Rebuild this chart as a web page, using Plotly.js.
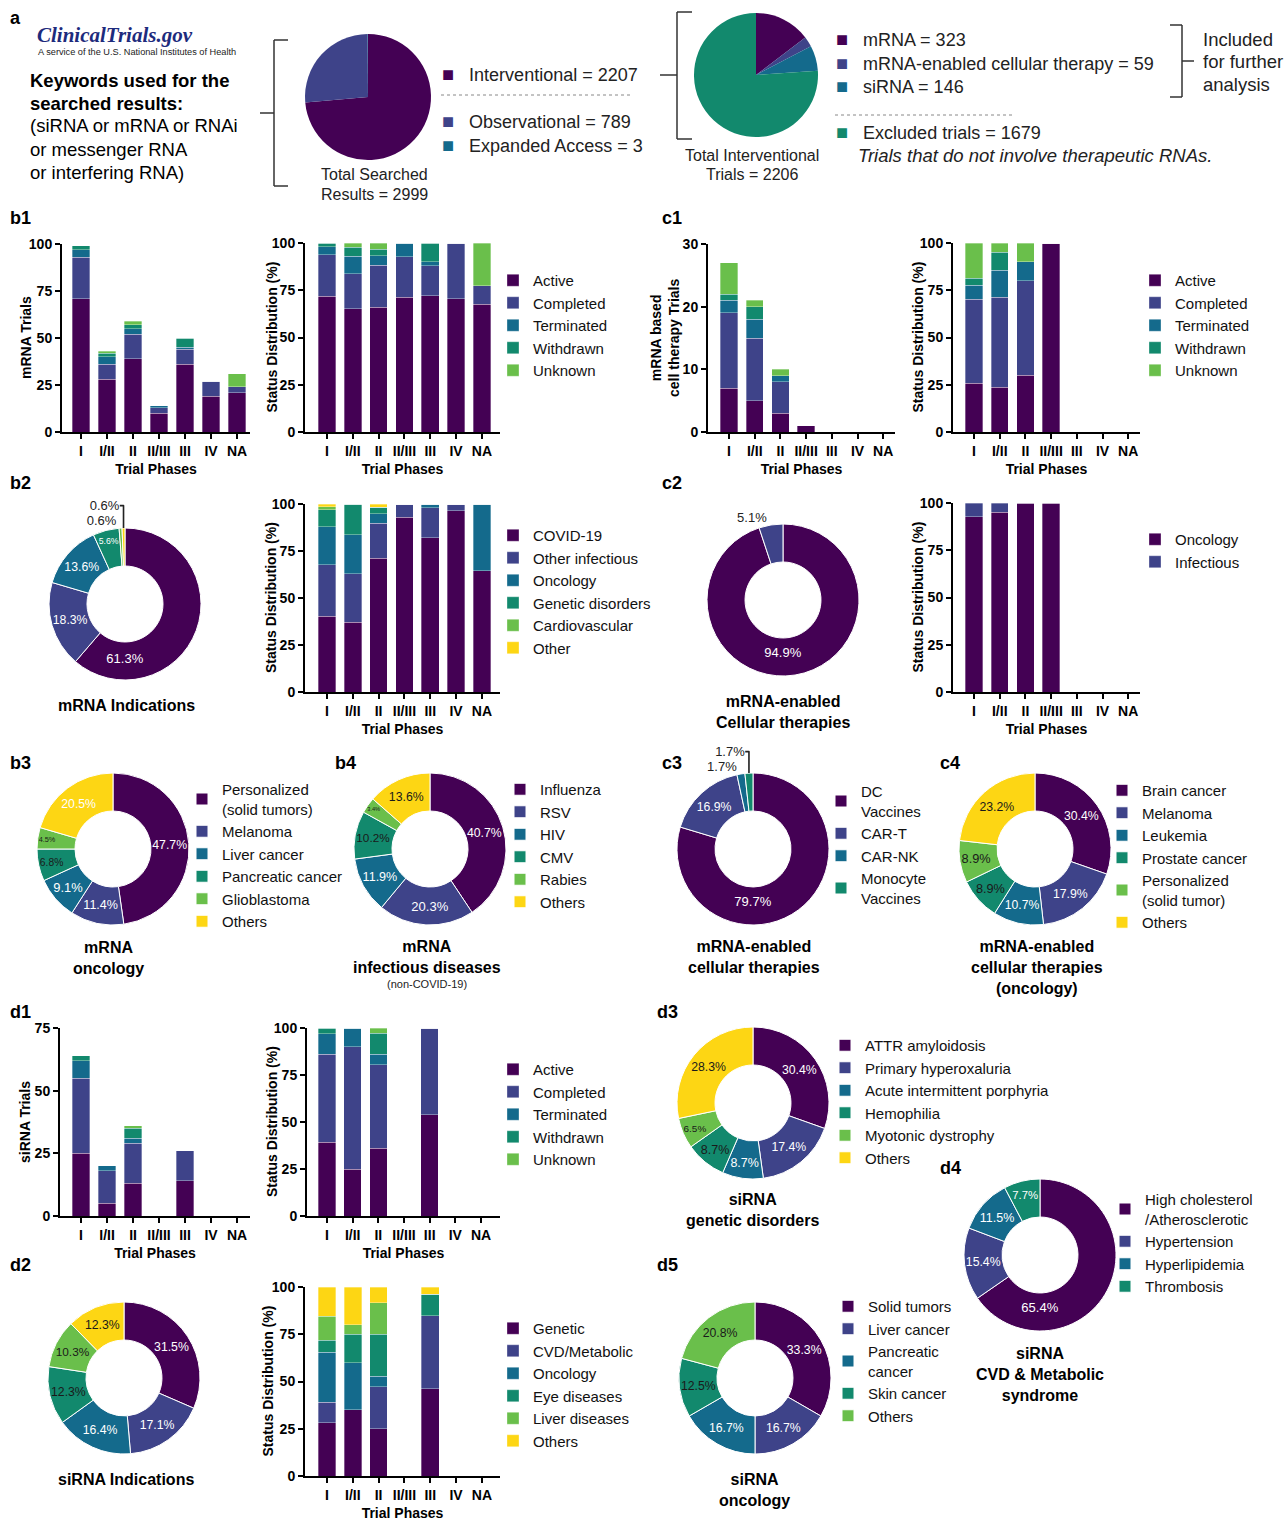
<!DOCTYPE html>
<html><head><meta charset="utf-8">
<script src="https://cdn.plot.ly/plotly-3.0.1.min.js"></script>
<style>html,body{margin:0;padding:0;background:#fff}#chart{width:1287px;height:1521px}</style>
</head><body><div id="chart"></div>
<script>
// ================= DATA =================
const phases = ['I','I/II','II','II/III','III','IV','NA'];
const statusNames = ['Active','Completed','Terminated','Withdrawn','Unknown'];

// a: search results
const searchLabels = ['Interventional','Observational','Expanded Access'];
const searchValues = [2207, 789, 3];
const interLabels = ['mRNA','mRNA-enabled cellular therapy','siRNA','Excluded trials'];
const interValues = [323, 59, 146, 1679];

// b1: mRNA trials (counts) by phase and status
const mrnaActive     = [71, 28, 39, 10, 36, 19, 21];
const mrnaCompleted  = [22,  8, 13,  3,  8,  8,  3];
const mrnaTerminated = [ 4,  4,  3,  1,  1,  0,  0];
const mrnaWithdrawn  = [ 2,  2,  2,  0,  5,  0,  0];
const mrnaUnknown    = [ 0,  1,  2,  0,  0,  0,  7];
// b1: status distribution (%)
const mrnaPctActive     = [71.7, 65.1, 66.1, 71.4, 72.0, 70.4, 67.7];
const mrnaPctCompleted  = [22.2, 18.6, 22.0, 21.4, 16.0, 29.6,  9.7];
const mrnaPctTerminated = [ 4.0,  9.3,  5.1,  7.1,  2.0,  0,    0];
const mrnaPctWithdrawn  = [ 2.0,  4.7,  3.4,  0,   10.0,  0,    0];
const mrnaPctUnknown    = [ 0,    2.3,  3.4,  0,    0,    0,   22.6];

// c1: mRNA-based cell therapy trials (counts)
const cellActive     = [7, 5, 3, 1, 0, 0, 0];
const cellCompleted  = [12, 10, 5, 0, 0, 0, 0];
const cellTerminated = [2, 3, 1, 0, 0, 0, 0];
const cellWithdrawn  = [1, 2, 0, 0, 0, 0, 0];
const cellUnknown    = [5, 1, 1, 0, 0, 0, 0];
// c1: status distribution (%)
const cellPctActive     = [25.9, 23.8, 30, 100, 0, 0, 0];
const cellPctCompleted  = [44.4, 47.6, 50, 0, 0, 0, 0];
const cellPctTerminated = [7.4, 14.3, 10, 0, 0, 0, 0];
const cellPctWithdrawn  = [3.7, 9.5, 0, 0, 0, 0, 0];
const cellPctUnknown    = [18.5, 4.8, 10, 0, 0, 0, 0];

// b2: mRNA indications
const mrnaIndLabels = ['COVID-19','Other infectious','Oncology','Genetic disorders','Cardiovascular','Other'];
const mrnaIndCounts = [198, 59, 44, 18, 2, 2];
const indPctCovid    = [40.4, 37.2, 71.2, 92.9, 82.0, 96.3, 64.5];
const indPctOtherInf = [27.3, 25.6, 18.6, 7.1, 16.0, 3.7, 0];
const indPctOncology = [20.2, 20.9, 5.1, 0, 2.0, 0, 35.5];
const indPctGenetic  = [9.1, 16.3, 3.4, 0, 0, 0, 0];
const indPctCardio   = [1.5, 0, 0, 0, 0, 0, 0];
const indPctOther    = [1.5, 0, 1.7, 0, 0, 0, 0];

// c2: mRNA-enabled cellular therapies indications
const cellIndLabels = ['Oncology','Infectious'];
const cellIndCounts = [56, 3];
const cellIndPctOnc = [92.6, 95.2, 100, 100, 0, 0, 0];
const cellIndPctInf = [7.4, 4.8, 0, 0, 0, 0, 0];

// b3 / b4 / c3 / c4
const mrnaOncLabels = ['Personalized<br>(solid tumors)','Melanoma','Liver cancer','Pancreatic cancer','Glioblastoma','Others'];
const mrnaOncCounts = [21, 5, 4, 3, 2, 9];
const mrnaInfLabels = ['Influenza','RSV','HIV','CMV','Rabies','Others'];
const mrnaInfCounts = [24, 12, 7, 6, 2, 8];
const cellTypeLabels = ['DC<br>Vaccines','CAR-T','CAR-NK','Monocyte<br>Vaccines'];
const cellTypeCounts = [47, 10, 1, 1];
const cellOncLabels = ['Brain cancer','Melanoma','Leukemia','Prostate cancer','Personalized<br>(solid tumor)','Others'];
const cellOncCounts = [17, 10, 6, 5, 5, 13];

// d1: siRNA trials (counts)
const siActive     = [25, 5, 13, 0, 14, 0, 0];
const siCompleted  = [30, 13, 16, 0, 12, 0, 0];
const siTerminated = [7, 2, 2, 0, 0, 0, 0];
const siWithdrawn  = [2, 0, 4, 0, 0, 0, 0];
const siUnknown    = [0, 0, 1, 0, 0, 0, 0];
// d1: status distribution (%)
const siPctActive     = [39.1, 25, 36.1, 0, 53.8, 0, 0];
const siPctCompleted  = [46.9, 65, 44.4, 0, 46.2, 0, 0];
const siPctTerminated = [10.9, 10, 5.6, 0, 0, 0, 0];
const siPctWithdrawn  = [3.1, 0, 11.1, 0, 0, 0, 0];
const siPctUnknown    = [0, 0, 2.8, 0, 0, 0, 0];

// d2: siRNA indications
const siIndLabels = ['Genetic','CVD/Metabolic','Oncology','Eye diseases','Liver diseases','Others'];
const siIndCounts = [46, 25, 24, 18, 15, 18];
const siIndPctGenetic = [28.1, 35, 25, 0, 46.2, 0, 0];
const siIndPctCvd     = [10.9, 0, 22.2, 0, 38.5, 0, 0];
const siIndPctOnc     = [26.6, 25, 5.6, 0, 0, 0, 0];
const siIndPctEye     = [6.3, 15, 22.2, 0, 11.5, 0, 0];
const siIndPctLiver   = [12.5, 5, 16.7, 0, 0, 0, 0];
const siIndPctOthers  = [15.6, 20, 8.3, 0, 3.8, 0, 0];

// d3 / d4 / d5
const siGenLabels = ['ATTR amyloidosis','Primary hyperoxaluria','Acute intermittent porphyria','Hemophilia','Myotonic dystrophy','Others'];
const siGenCounts = [14, 8, 4, 4, 3, 13];
const siCvdLabels = ['High cholesterol<br>/Atherosclerotic','Hypertension','Hyperlipidemia','Thrombosis'];
const siCvdCounts = [17, 4, 3, 2];
const siOncLabels = ['Solid tumors','Liver cancer','Pancreatic<br>cancer','Skin cancer','Others'];
const siOncCounts = [8, 4, 4, 3, 5];

// ================= STYLE / LAYOUT =================
const W = 1287, H = 1521;
const X = p => p / W;
const Y = p => 1 - p / H;
const FONT = 'Liberation Sans, Arial, Helvetica, sans-serif';
const C = {P:'#440154', B:'#3e4389', T:'#146a8c', G:'#12896d', L:'#6abf4b', Yl:'#fdd614'};
const pal = [C.P, C.B, C.T, C.G, C.L, C.Yl];
const DARK = '#1a1a1a', WHITE = '#ffffff';

const traces = [];
const layout = {
  width: W, height: H,
  margin: {l:0, r:0, t:0, b:0},
  paper_bgcolor: '#ffffff', plot_bgcolor: '#ffffff',
  font: {family: FONT, color: '#000', size: 14},
  barmode: 'stack', bargap: 0.32,
  showlegend: true, hovermode: false,
  annotations: [], shapes: []
};

function ann(text, x, y, o) {
  o = o || {};
  layout.annotations.push({
    text: text, x: X(x), y: Y(y), xref: 'paper', yref: 'paper', showarrow: false,
    xanchor: o.xa || 'left', yanchor: o.ya || 'middle', align: o.align || 'left',
    textangle: o.angle || 0,
    font: {family: o.family || FONT, size: o.size || 16, color: o.color || '#000',
      weight: o.bold ? 'bold' : 'normal', style: o.italic ? 'italic' : 'normal'}
  });
}

function barPanel(n, names, series, c) {
  const xs = n === 1 ? '' : String(n);
  series.forEach((vals, i) => traces.push({
    type: 'bar', x: phases, y: vals, name: names[i],
    xaxis: 'x' + xs, yaxis: 'y' + xs,
    marker: {color: pal[i], line: {color: 'rgba(255,255,255,0.55)', width: 0.6}},
    showlegend: !!c.legend, legend: c.legend || 'legend'
  }));
  const axisCommon = {
    showline: true, linecolor: '#000', linewidth: 2,
    ticks: 'outside', ticklen: 5, tickwidth: 2, tickcolor: '#000',
    showgrid: false, zeroline: false, fixedrange: true,
    tickfont: {family: FONT, size: 14, weight: 'bold', color: '#000'}
  };
  layout['xaxis' + xs] = Object.assign({}, axisCommon, {
    domain: [X(c.x[0]), X(c.x[1])], anchor: 'y' + xs,
    type: 'category', categoryorder: 'array', categoryarray: phases,
    range: c.xr,
    title: {text: 'Trial Phases', font: {family: FONT, size: 14, weight: 'bold'}, standoff: 6}
  });
  layout['yaxis' + xs] = Object.assign({}, axisCommon, {
    domain: [Y(c.y[0]), Y(c.y[1])], anchor: 'x' + xs,
    range: [0, c.ymax], tick0: 0, dtick: c.dtick
  });
  // y-axis title, placed beside the tick labels
  ann(c.ytitle, c.tx, (c.y[0] + c.y[1]) / 2, {size: 14, bold: true, xa: 'center', align: 'center', angle: -90});
}

barPanel(1, statusNames, [mrnaActive, mrnaCompleted, mrnaTerminated, mrnaWithdrawn, mrnaUnknown],
  {x:[62,250], y:[432,244], xr:[-0.73,6.5], ymax:100, dtick:25, ytitle:'mRNA Trials', tx:26, legend:'legend'});
barPanel(2, statusNames, [mrnaPctActive, mrnaPctCompleted, mrnaPctTerminated, mrnaPctWithdrawn, mrnaPctUnknown],
  {x:[305,500], y:[432,243], xr:[-0.85,6.7], ymax:100, dtick:25, ytitle:'Status Distribution (%)', tx:271});
barPanel(3, statusNames, [cellActive, cellCompleted, cellTerminated, cellWithdrawn, cellUnknown],
  {x:[708,895], y:[432,244], xr:[-0.82,6.46], ymax:30, dtick:10, ytitle:'mRNA based<br>cell therapy Trials', tx:665, legend:'legend2'});
barPanel(4, statusNames, [cellPctActive, cellPctCompleted, cellPctTerminated, cellPctWithdrawn, cellPctUnknown],
  {x:[953,1140], y:[432,243], xr:[-0.82,6.46], ymax:100, dtick:25, ytitle:'Status Distribution (%)', tx:917});
barPanel(5, mrnaIndLabels, [indPctCovid, indPctOtherInf, indPctOncology, indPctGenetic, indPctCardio, indPctOther],
  {x:[305,500], y:[692,504], xr:[-0.85,6.7], ymax:100, dtick:25, ytitle:'Status Distribution (%)', tx:271, legend:'legend3'});
barPanel(6, cellIndLabels, [cellIndPctOnc, cellIndPctInf],
  {x:[953,1140], y:[692,503], xr:[-0.82,6.46], ymax:100, dtick:25, ytitle:'Status Distribution (%)', tx:917, legend:'legend4'});
barPanel(7, statusNames, [siActive, siCompleted, siTerminated, siWithdrawn, siUnknown],
  {x:[60,250], y:[1216,1028], xr:[-0.81,6.5], ymax:75, dtick:25, ytitle:'siRNA Trials', tx:25, legend:'legend9'});
barPanel(8, statusNames, [siPctActive, siPctCompleted, siPctTerminated, siPctWithdrawn, siPctUnknown],
  {x:[307,500], y:[1216,1028], xr:[-0.78,6.74], ymax:100, dtick:25, ytitle:'Status Distribution (%)', tx:272});
barPanel(9, siIndLabels, [siIndPctGenetic, siIndPctCvd, siIndPctOnc, siIndPctEye, siIndPctLiver, siIndPctOthers],
  {x:[305,500], y:[1476,1287], xr:[-0.85,6.7], ymax:100, dtick:25, ytitle:'Status Distribution (%)', tx:267, legend:'legend10'});

let pieCount = 0;
function pie(labels, values, cx, cy, r, o) {
  o = o || {};
  pieCount++;
  const n = values.length;
  const cols = pal.slice(0, n);
  const tc = o.tc || cols.map(c => (c === C.P || c === C.B || c === C.T) ? WHITE : DARK);
  // make labels unique per donut (invisible suffix) so each donut keeps its own legend entries
  const uLabels = labels.map(l => l + '\u200b'.repeat(pieCount));
  const t = {
    type: 'pie', labels: uLabels, values: values, sort: false, direction: 'clockwise', rotation: 0,
    hole: o.hole === undefined ? 0.5 : o.hole,
    domain: {x: [X(cx - r), X(cx + r)], y: [Y(cy + r), Y(cy - r)]},
    marker: {colors: cols, line: {color: '#ffffff', width: o.lw === undefined ? 1 : o.lw}},
    showlegend: !!o.legend, legend: o.legend || 'legend',
    automargin: false
  };
  if (o.noText) { t.textinfo = 'none'; }
  else {
    t.textinfo = 'percent';
    t.texttemplate = '%{percent:.1%}';
    t.textposition = o.pos || Array(n).fill('inside');
    t.insidetextorientation = o.orient || 'horizontal';
    t.textfont = {family: FONT, size: 13};
    t.insidetextfont = {family: FONT, size: 13, color: tc};
    t.outsidetextfont = {family: FONT, size: 13, color: '#222'};
  }
  traces.push(t);
}

pie(searchLabels, searchValues, 368, 97, 63, {hole: 0, noText: true, lw: 0});
pie(interLabels, interValues, 756, 75, 62, {hole: 0, noText: true, lw: 0});
pie(mrnaIndLabels, mrnaIndCounts, 125, 604, 76, {pos: ['inside','inside','inside','inside','outside','outside'],
  tc: [WHITE, WHITE, WHITE, WHITE, DARK, DARK]});
pie(cellIndLabels, cellIndCounts, 783, 600, 76, {pos: ['inside','outside']});
pie(mrnaOncLabels, mrnaOncCounts, 113, 849, 76, {legend: 'legend5', tc: [WHITE, WHITE, WHITE, DARK, DARK, WHITE]});
pie(mrnaInfLabels, mrnaInfCounts, 430, 849, 76, {legend: 'legend6'});
pie(cellTypeLabels, cellTypeCounts, 753, 849, 76, {legend: 'legend7', pos: ['inside','inside','outside','outside']});
pie(cellOncLabels, cellOncCounts, 1035, 849, 76, {legend: 'legend8'});
pie(siGenLabels, siGenCounts, 753, 1103, 76, {legend: 'legend11'});
pie(siCvdLabels, siCvdCounts, 1040, 1255, 76, {legend: 'legend12', tc: [WHITE, WHITE, WHITE, WHITE]});
pie(siIndLabels, siIndCounts, 124, 1378, 76, {});
pie(siOncLabels, siOncCounts, 755, 1378, 76, {legend: 'legend13'});

function leg(xText, yTop) {
  return {x: X(xText - 40), y: Y(yTop), xanchor: 'left', yanchor: 'top',
    font: {family: FONT, size: 15, color: '#111'}, bgcolor: 'rgba(0,0,0,0)', borderwidth: 0,
    traceorder: 'normal', tracegroupgap: 0, itemclick: false, itemdoubleclick: false};
}
layout.legend   = leg(533, 264);
layout.legend2  = leg(1175, 264);
layout.legend3  = leg(533, 519);
layout.legend4  = leg(1175, 523);
layout.legend5  = leg(222, 773);
layout.legend6  = leg(540, 773);
layout.legend7  = leg(861, 775);
layout.legend8  = leg(1142, 774);
layout.legend9  = leg(533, 1053);
layout.legend10 = leg(533, 1312);
layout.legend11 = leg(865, 1029);
layout.legend12 = leg(1145, 1183);
layout.legend13 = leg(868, 1290);

// panel letters
[['a',8,18],['b1',8,218],['c1',660,218],['b2',8,483],['c2',660,483],['b3',8,763],['b4',333,763],
 ['c3',660,763],['c4',938,763],['d1',8,1012],['d3',655,1012],['d4',938,1168],['d2',8,1265],['d5',655,1265]]
 .forEach(p => ann(p[0], p[1], p[2], {size: 18, bold: true}));

// panel a texts
ann('ClinicalTrials.gov', 35, 35, {family: 'Liberation Serif, Times New Roman, serif', size: 21, bold: true, italic: true, color: '#1d2b7d'});
ann('A service of the U.S. National Institutes of Health', 36, 52, {size: 9.2, color: '#222'});
ann('Keywords used for the', 28, 80, {size: 18.5, bold: true});
ann('searched results:', 28, 103, {size: 18.5, bold: true});
ann('(siRNA or mRNA or RNAi', 28, 126, {size: 18.5});
ann('or messenger RNA', 28, 149, {size: 18.5});
ann('or interfering RNA)', 28, 172, {size: 18.5});
ann('Total Searched', 374, 175, {size: 16, xa: 'center', color: '#222'});
ann('Results = 2999', 374, 194, {size: 16, xa: 'center', color: '#222'});
ann('Total Interventional', 752, 156, {size: 16, xa: 'center', color: '#222'});
ann('Trials = 2206', 752, 175, {size: 16, xa: 'center', color: '#222'});
const sq = c => '<span style="color:' + c + ';font-size:20px">\u25A0</span>\u00a0\u00a0\u00a0';
ann(sq(C.P) + 'Interventional = ' + searchValues[0], 440, 74, {size: 18, color: '#222'});
ann(sq(C.B) + 'Observational = ' + searchValues[1], 440, 121, {size: 18, color: '#222'});
ann(sq(C.T) + 'Expanded Access = ' + searchValues[2], 440, 145, {size: 18, color: '#222'});
ann(sq(C.P) + 'mRNA = ' + interValues[0], 834, 39, {size: 18, color: '#222'});
ann(sq(C.B) + 'mRNA-enabled cellular therapy = ' + interValues[1], 834, 63, {size: 18, color: '#222'});
ann(sq(C.T) + 'siRNA = ' + interValues[2], 834, 86, {size: 18, color: '#222'});
ann(sq(C.G) + 'Excluded trials = ' + interValues[3], 834, 132, {size: 18, color: '#222'});
ann('Trials that do not involve therapeutic RNAs.', 856, 155, {size: 18.5, italic: true, color: '#222'});
ann('Included', 1201, 39, {size: 18.5, color: '#222'});
ann('for further', 1201, 62, {size: 18.5, color: '#222'});
ann('analysis', 1201, 85, {size: 18.5, color: '#222'});

// donut captions
const cap = (t, x, y) => ann(t, x, y, {size: 16, bold: true, xa: 'center', align: 'center', ya: 'top'});
cap('mRNA Indications', 127, 695);
cap('mRNA-enabled<br>Cellular therapies', 783, 691);
cap('mRNA<br>oncology', 108, 937);
cap('mRNA<br>infectious diseases', 427, 936);
ann('(non-COVID-19)', 427, 984, {size: 11, xa: 'center', color: '#222'});
cap('mRNA-enabled<br>cellular therapies', 754, 936);
cap('mRNA-enabled<br>cellular therapies<br>(oncology)', 1037, 936);
cap('siRNA<br>genetic disorders', 753, 1189);
cap('siRNA<br>CVD &amp; Metabolic<br>syndrome', 1040, 1343);
cap('siRNA Indications', 126, 1469);
cap('siRNA<br>oncology', 754, 1469);

// brackets & separators
function seg(x0, y0, x1, y1, dash, color) {
  layout.shapes.push({type: 'line', xref: 'paper', yref: 'paper', x0: X(x0), y0: Y(y0), x1: X(x1), y1: Y(y1),
    line: {color: color || '#333', width: dash ? 1 : 1.5, dash: dash || 'solid'}});
}
seg(274,40,288,40); seg(274,40,274,186); seg(274,186,288,186); seg(260,113,274,113);
seg(660,75,677,75);
seg(677,12,692,12); seg(677,12,677,139); seg(677,139,692,139);
seg(1170,25,1182,25); seg(1182,25,1182,97); seg(1170,97,1182,97); seg(1182,61,1194,61);
seg(441,95,633,95,'dot','#888'); seg(835,115,1015,115,'dot','#888');

Plotly.newPlot('chart', traces, layout, {displayModeBar: false, staticPlot: true});
</script>
</body></html>
